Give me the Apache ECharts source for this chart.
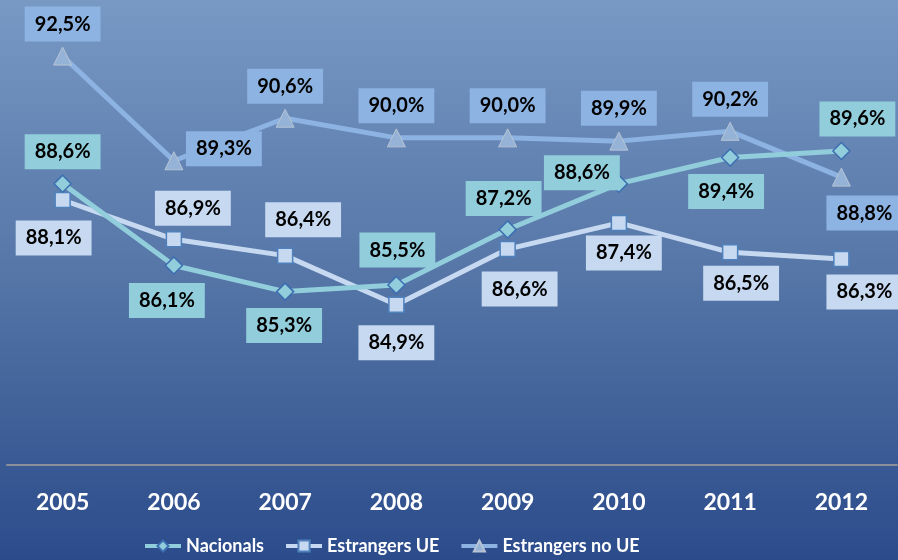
<!DOCTYPE html>
<html>
<head>
<meta charset="utf-8">
<script src="https://cdn.jsdelivr.net/npm/echarts@6/dist/echarts.min.js"></script>
<style>
  html, body { margin: 0; padding: 0; }
  #chart { width: 898px; height: 560px; }
</style>
</head>
<body>
<div id="chart"></div>
<script>
  var years = ['2005', '2006', '2007', '2008', '2009', '2010', '2011', '2012'];
  var nacionals = [88.6, 86.1, 85.3, 85.5, 87.2, 88.6, 89.4, 89.6];
  var estrangersUE = [88.1, 86.9, 86.4, 84.9, 86.6, 87.4, 86.5, 86.3];
  var estrangersNoUE = [92.5, 89.3, 90.6, 90.0, 90.0, 89.9, 90.2, 88.8];

  // label placement (offset of the label box from the point)
  var offNac = [[0, -32], [-7, 35], [-1, 34], [1, -35], [-4, -31], [-37, -11], [-4, 34], [16, -32]];
  var offUE = [[-9, 38], [19, -31], [18, -36], [0, 38], [12, 40], [5, 30], [11, 31], [23, 33]];
  var offNoUE = [[0, -32], [50, -12], [0, -32], [0, -32], [0, -32], [0, -33], [0, -32], [23, 36]];

  var FONT = 'Lato';

  function fmt(p) {
    return p.value.toFixed(1).replace('.', ',') + '%';
  }

  function withOffsets(values, offsets) {
    return values.map(function (v, i) {
      return { value: v, label: { offset: offsets[i] } };
    });
  }

  function labelStyle(bg) {
    return {
      show: true,
      position: 'inside',
      formatter: fmt,
      fontFamily: FONT,
      fontWeight: 'bold',
      fontSize: 20,
      lineHeight: 21,
      color: '#000',
      backgroundColor: bg,
      padding: [7, 10]
    };
  }

  var chart = echarts.init(document.getElementById('chart'), null, { renderer: 'canvas' });

  chart.setOption({
    animation: false,
    backgroundColor: {
      type: 'linear', x: 0, y: 0, x2: 0, y2: 1,
      colorStops: [
        { offset: 0, color: '#7899c4' },
        { offset: 0.5, color: '#5475a6' },
        { offset: 1, color: '#2b4b8b' }
      ]
    },
    grid: { left: 7, right: 1, top: 7, bottom: 95 },
    xAxis: {
      type: 'category',
      data: years,
      boundaryGap: true,
      axisLine: { lineStyle: { color: '#8a8f99', width: 2 } },
      axisTick: { length: 6, lineStyle: { color: '#8a8f99', width: 2 } },
      axisLabel: {
        color: '#fff',
        fontFamily: FONT,
        fontWeight: 'bold',
        fontSize: 23,
        margin: 26
      }
    },
    yAxis: {
      type: 'value',
      min: 80,
      max: 94,
      show: false,
      splitLine: { show: false }
    },
    legend: {
      bottom: 0,
      left: 138,
      itemWidth: 36,
      itemHeight: 14,
      itemGap: 20,
      lineStyle: { width: 4 },
      textStyle: {
        color: '#fff',
        fontFamily: FONT,
        fontWeight: 'bold',
        fontSize: 18
      },
      data: ['Nacionals', 'Estrangers UE', 'Estrangers no UE']
    },
    series: [
      {
        name: 'Estrangers no UE',
        type: 'line',
        data: withOffsets(estrangersNoUE, offNoUE),
        symbol: 'triangle',
        symbolSize: 18,
        lineStyle: { color: '#8db3e2', width: 5 },
        itemStyle: { color: '#95b3d7', borderColor: '#b7c3d4', borderWidth: 1 },
        label: labelStyle('#8db3e2'),
        z: 2
      },
      {
        name: 'Estrangers UE',
        type: 'line',
        data: withOffsets(estrangersUE, offUE),
        symbol: 'rect',
        symbolSize: 15,
        lineStyle: { color: '#c6d9f1', width: 5 },
        itemStyle: { color: '#c6d9f1', borderColor: '#4f81bd', borderWidth: 1.5 },
        label: labelStyle('#c6d9f1'),
        z: 3
      },
      {
        name: 'Nacionals',
        type: 'line',
        data: withOffsets(nacionals, offNac),
        symbol: 'diamond',
        symbolSize: 17,
        lineStyle: { color: '#92cddc', width: 5 },
        itemStyle: { color: '#92cddc', borderColor: '#3c6eb0', borderWidth: 1.5 },
        label: labelStyle('#92cddc'),
        z: 4
      }
    ]
  });
</script>
</body>
</html>
